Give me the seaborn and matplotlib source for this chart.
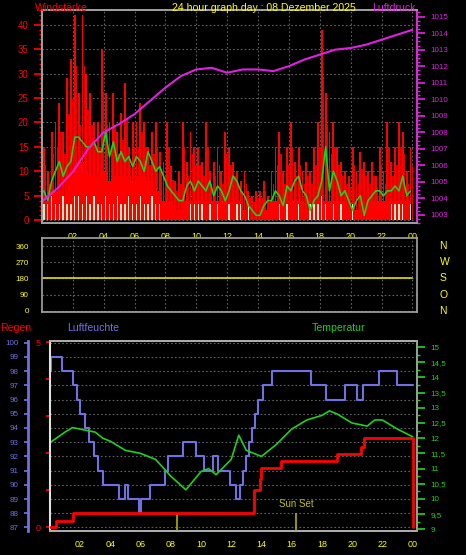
import numpy as np
import pandas as pd
import matplotlib
matplotlib.use("Agg")
import matplotlib.pyplot as plt
import seaborn as sns
from matplotlib.ticker import MultipleLocator

sns.set_theme(style="dark")
plt.rcParams['font.family'] = ['Liberation Sans', 'DejaVu Sans']

# ---------------- data ----------------
gust = [15,10,18,20, 24,18,29,33, 42,26,42,30, 26,20,20,35, 26,20,26,18,
        22,28,15,20, 20,24,20,15, 18,20,14,12, 20,11,8,10, 20,12,18,15,
        15,12,20,10, 12,15,10,18, 15,12,10,8, 10,6,5,6, 6,8,5,10,
        15,18,10,15, 20,12,15,10, 12,10,15,20, 39,26,18,20, 15,12,10,9,
        15,10,14,12, 10,12,9,15, 10,20,12,15, 20,18,10,15]
gust_min = [4,4,6,6, 6,5,8,9, 14,12,12,10, 9,9,9,10, 10,8,9,9,
            9,9,9,8, 9,9,9,8, 8,6,6,4, 4,4,2,2, 4,4,4,4,
            4,4,4,4, 4,4,4,4, 4,4,4,4, 2,0,0,0, 0,2,2,4,
            4,4,4,4, 4,4,4,4, 2,2,4,4, 4,4,4,4, 4,4,4,2,
            2,2,2,0, 4,4,4,4, 4,4,4,4, 4,4,4,4]
wind = [6,4,8,10, 12,9,11,12, 17,17,16,15, 15,16,14,14, 18,13,16,12,
        14,12,13,11, 13,12,10,14, 12,10,11,9, 7,6,5,4, 4,7,8,6,
        8,7,6,8, 5,7,6,4, 6,9,8,6, 5,3,2,1, 1,3,4,4,
        6,5,3,7, 6,8,9,6, 5,2,4,5, 8,15,6,10, 8,5,6,4,
        2,4,5,1, 4,5,6,6, 5,6,6,7, 6,9,5,6]
calm = [3.3,3.3,5,3.3, 3.3,5,3.3,3.3, 5,5,3.3,5, 3.3,5,3.3,3.3, 5,3.3,3.3,5,
        3.3,3.3,5,3.3, 3.3,5,3.3,3.3, 5,3.3,3.3,0, 0,0,0,0, 0,0,3.3,3.3,
        3.3,3.3,0,3.3, 0,3.3,0,0, 3.3,0,3.3,3.3, 0,3.3,0,0, 0,0,0,0,
        0,3.3,0,3.3, 0,0,3.3,0, 0,3.3,3.3,3.3, 5,3.3,0,3.3, 0,3.3,0,0,
        3.3,0,0,0, 0,0,0,0, 0,0,3.3,3.3, 3.3,3.3,0,3.3]
t15 = np.arange(len(gust)) * 0.25 + 0.125

p_hours = [0,1,2,3,4,5,6,7,8,9,10,11,12,13,14,15,16,17,18,19,20,21,22,23,24]
pressure = [1003.8,1004.6,1005.6,1007.0,1008.0,1008.5,1009.1,1009.9,1010.7,1011.4,
            1011.8,1011.9,1011.6,1011.8,1011.8,1011.7,1012.0,1012.4,1012.7,1013.0,
            1013.1,1013.3,1013.6,1013.9,1014.2]

dir_hours = [0, 24]
direction = [180, 180]

hum_hours = [0,0.1,0.8,1.5,1.8,2.0,2.3,2.6,2.9,3.2,3.5,4.6,5.0,5.2,5.9,6.0,6.6,7.6,7.8,
             8.8,9.7,10.2,10.8,11.1,11.9,12.3,12.6,12.8,13.0,13.2,13.4,13.6,13.8,14.1,
             14.7,17.3,18.3,19.5,20.3,20.7,21.8,23.0,24.0]
humidity = [98,99,98,97,96,95,94,93,92,91,90,89,90,89,88,89,90,91,92,
            93,92,91,92,91,90,89,90,91,92,93,94,95,96,97,
            98,97,96,97,96,97,98,97,97]

temp_hours = [0,1,1.5,2,3,3.5,4,5,6,7,8,9,10,10.5,11,12,12.5,13,14,15,16,17,18,18.5,
              19,20,21,21.5,22,23,24]
temperature = [11.85,12.2,12.35,12.3,12.2,12.0,11.9,11.6,11.5,11.3,10.75,10.3,10.9,11.0,
               10.8,11.3,12.1,11.6,11.4,11.8,12.3,12.6,12.75,12.9,12.8,12.5,12.4,12.6,
               12.6,12.3,12.05]

rain_hours = [0,0.4,1.5,13.5,13.9,14.0,15.3,19.0,20.6,20.8,23.95,24.0]
rain = [0,0.18,0.4,1.0,1.3,1.59,1.8,1.99,2.18,2.41,2.41,0]

sun_events = [8.4, 16.3]
sun_labels = ["", "Sun Set"]

xticks = [2,4,6,8,10,12,14,16,18,20,22,24]
xlabels = ["02","04","06","08","10","12","14","16","18","20","22","00"]

RED = "#ff0000"; MAG = "#e020e0"; YEL = "#ffff00"; GRN = "#20d020"
BLUE = "#7070e0"; GRID = "#606060"
FS = 7.6

fig = plt.figure(figsize=(4.66, 5.55), dpi=100, facecolor="black")

def style(ax):
    ax.set_facecolor("black")
    ax.grid(True, color=GRID, linestyle=(0, (1.5, 2)), linewidth=0.8)
    for s in ax.spines.values():
        s.set_color("#a0a0a0")
    ax.set_xticks(xticks)
    ax.set_xticklabels(xlabels)
    ax.tick_params(axis='x', colors=YEL, labelsize=6.5, length=3, labelcolor=YEL)
    ax.set_xlim(0, 24.3)

# ---------------- top panel ----------------
ax1 = fig.add_axes([0.090, 0.598, 0.805, 0.384])
style(ax1)
ax1.bar(t15, gust, width=0.12, color=RED, linewidth=0)
ax1.bar(t15 + 0.12, [g * 0.75 for g in gust], width=0.1, color="#e00000", linewidth=0)
ax1.fill_between(t15, gust_min, 0, step="mid", color=RED, linewidth=0)
ax1.bar(t15, calm, width=0.09, color="#c8ecc8", linewidth=0)
sns.lineplot(x=t15, y=wind, ax=ax1, color=GRN, linewidth=1.2)
ax1.set_ylim(-0.6, 43)
ax1.set_yticks([0,5,10,15,20,25,30,35,40])
ax1.yaxis.set_minor_locator(MultipleLocator(1))
ax1.tick_params(axis='y', which='both', colors=RED, labelsize=7, labelcolor=RED)
ax1.tick_params(axis='y', which='minor', length=2)
ax1.set_ylabel("")
ax1p = ax1.twinx()
sns.lineplot(x=p_hours, y=pressure, ax=ax1p, color=MAG, linewidth=1.5)
ax1p.set_ylim(1002.5, 1015.4)
ax1p.set_yticks(range(1003, 1016))
ax1p.set_yticklabels([str(v) for v in range(1003, 1016)])
ax1p.yaxis.set_minor_locator(MultipleLocator(0.25))
ax1p.tick_params(axis='y', which='both', colors=MAG, labelsize=5.8, labelcolor=MAG)
ax1p.tick_params(axis='y', which='minor', length=2)
ax1p.grid(False)
ax1p.set_ylabel("")
for s in ax1p.spines.values():
    s.set_color("#a0a0a0")
ax1p.spines['right'].set_color(MAG)
ax1.set_xlim(0, 24.3)

fig.text(35/466, 1 - 11/555, "Windstärke", color=RED, fontsize=FS)
fig.text(172/466, 1 - 11/555, "24 hour graph day : 08 Dezember 2025", color=YEL,
         fontsize=FS, ha="left")
fig.text(372/466, 1 - 11/555, "Luftdruck", color=MAG, fontsize=FS)

# ---------------- middle panel ----------------
ax2 = fig.add_axes([0.090, 0.438, 0.805, 0.133])
style(ax2)
sns.lineplot(x=dir_hours, y=direction, ax=ax2, color="#e0e000", linewidth=1.2)
ax2.set_ylim(-5.5, 404)
ax2.set_yticks([0,90,180,270,360])
ax2.tick_params(axis='y', colors=YEL, labelsize=5.8, labelcolor=YEL)
ax2.set_xticklabels([])
ax2.tick_params(axis='x', length=0)
ax2.set_xlim(0, 24.3)
for lab, v in zip(["N","O","S","W","N"], [0,90,180,270,360]):
    ax2.text(1.06, (v + 5.5) / 409.5, lab, transform=ax2.transAxes, color=YEL,
             fontsize=7.5, va="center", ha="left")

# ---------------- bottom panel ----------------
ax3 = fig.add_axes([0.107, 0.043, 0.788, 0.342])
style(ax3)
sns.lineplot(x=rain_hours, y=rain, ax=ax3, color=RED, linewidth=2, drawstyle="steps-post",
             zorder=5)
ax3.set_ylim(-0.1, 5.02)
ax3.set_yticks([0,1,2,3,4,5])
ax3.set_yticklabels(["0","","","","","5"])
ax3.tick_params(axis='y', colors=RED, labelsize=6.5, labelcolor=RED, length=3)
ax3.spines['left'].set_color("#e0e0e0")
ax3.spines['left'].set_linewidth(1.5)
ax3.grid(False)
ax3.set_ylabel("")
for ev, lb in zip(sun_events, sun_labels):
    ax3.vlines(ev, -0.1, 0.4, color="#b0b000", linewidth=1.2)
    if lb:
        ax3.text(ev, 0.5, lb, color="#c0c000", fontsize=7, ha="center", va="bottom")

axh = ax3.twinx()
axh.yaxis.set_label_position("left")
axh.yaxis.tick_left()
axh.spines['left'].set_position(('outward', 16))
axh.spines['left'].set_color(BLUE)
axh.spines['left'].set_linewidth(2)
axh.spines['right'].set_visible(False)
sns.lineplot(x=hum_hours, y=humidity, ax=axh, color=BLUE, linewidth=1.5,
             drawstyle="steps-post")
axh.set_ylim(86.74, 100.1)
axh.set_yticks(range(87, 101))
axh.tick_params(axis='y', colors=BLUE, labelsize=5.8, labelcolor=BLUE, length=3)
axh.set_xticks(xticks)
axh.grid(True, color=GRID, linestyle=(0, (1.5, 2)), linewidth=0.8)
axh.set_ylabel("")

axt = ax3.twinx()
sns.lineplot(x=temp_hours, y=temperature, ax=axt, color=GRN, linewidth=1.2)
axt.set_ylim(8.94, 15.19)
axt.set_yticks([9,9.5,10,10.5,11,11.5,12,12.5,13,13.5,14,14.5,15])
axt.set_yticklabels(["9","9,5","10","10,5","11","11,5","12","12,5","13","13,5","14","14,5","15"])
axt.yaxis.set_minor_locator(MultipleLocator(0.25))
axt.tick_params(axis='y', which='both', colors=GRN, labelsize=5.8, labelcolor=GRN)
axt.tick_params(axis='y', which='minor', length=2)
axt.grid(False)
axt.set_ylabel("")
axt.spines['right'].set_color(GRN)
for a in (ax3, axh, axt):
    a.set_xlim(0, 24.3)
ax3.set_zorder(3); ax3.patch.set_visible(False)
axh.set_zorder(1); axt.set_zorder(2)
axh.patch.set_facecolor("black")
axh.tick_params(axis='x', labelbottom=False, length=0)
axt.tick_params(axis='x', labelbottom=False, length=0)

fig.text(0/466, 1 - 331/555, "Regen", color=RED, fontsize=FS)
fig.text(67/466, 1 - 331/555, "Luftfeuchte", color=BLUE, fontsize=FS)
fig.text(312/466, 1 - 331/555, "Temperatur", color=GRN, fontsize=FS)

fig.savefig("out.png", dpi=100, facecolor="black")
